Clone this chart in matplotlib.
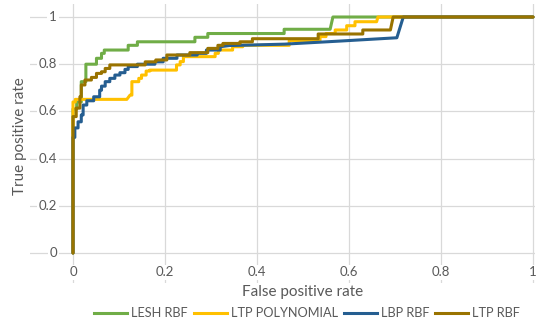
import matplotlib
matplotlib.use("Agg")
import matplotlib.pyplot as plt
from matplotlib.lines import Line2D

# ---- data ----
lesh_fpr = [0, 0, 0.008, 0.008, 0.018, 0.018, 0.028, 0.028, 0.051, 0.051, 0.062, 0.062,
            0.068, 0.068, 0.12, 0.12, 0.14, 0.14, 0.265, 0.265, 0.293, 0.293, 0.459, 0.459,
            0.559, 0.565, 1.0]
lesh_tpr = [0, 0.61, 0.61, 0.64, 0.64, 0.726, 0.726, 0.80, 0.80, 0.825, 0.825, 0.846,
            0.846, 0.86, 0.86, 0.88, 0.88, 0.895, 0.895, 0.914, 0.914, 0.93, 0.93, 0.948,
            0.948, 1.0, 1.0]

poly_fpr = [0, 0, 0.005, 0.005, 0.117, 0.124, 0.128, 0.128, 0.143, 0.143, 0.149, 0.149,
            0.159, 0.159, 0.167, 0.167, 0.225, 0.225, 0.233, 0.233, 0.24, 0.24, 0.309, 0.309,
            0.316, 0.316, 0.347, 0.347, 0.369, 0.369, 0.47, 0.47, 0.537, 0.537, 0.55, 0.55,
            0.57, 0.57, 0.595, 0.595, 0.613, 0.613, 0.66, 0.663, 1.0]
poly_tpr = [0, 0.64, 0.64, 0.651, 0.651, 0.669, 0.669, 0.726, 0.726, 0.74, 0.74, 0.754,
            0.754, 0.771, 0.771, 0.775, 0.775, 0.797, 0.797, 0.811, 0.811, 0.832, 0.832, 0.846,
            0.846, 0.86, 0.86, 0.874, 0.874, 0.88, 0.88, 0.90, 0.90, 0.917, 0.917, 0.93,
            0.93, 0.945, 0.945, 0.963, 0.963, 0.98, 0.98, 1.0, 1.0]

lbp_fpr = [0, 0, 0.004, 0.004, 0.011, 0.011, 0.018, 0.018, 0.022, 0.022, 0.03, 0.03,
           0.045, 0.045, 0.058, 0.058, 0.062, 0.062, 0.07, 0.07, 0.08, 0.08, 0.091, 0.091,
           0.102, 0.102, 0.113, 0.113, 0.12, 0.12, 0.14, 0.14, 0.178, 0.178, 0.196, 0.196,
           0.226, 0.226, 0.27, 0.27, 0.29, 0.29, 0.32, 0.32, 0.34, 0.46, 0.58, 0.704, 0.718, 1.0]
lbp_tpr = [0, 0.49, 0.49, 0.53, 0.53, 0.556, 0.556, 0.585, 0.585, 0.627, 0.627, 0.645,
           0.645, 0.662, 0.662, 0.69, 0.69, 0.707, 0.707, 0.726, 0.726, 0.74, 0.74, 0.754,
           0.754, 0.764, 0.764, 0.778, 0.778, 0.79, 0.79, 0.80, 0.80, 0.81, 0.81, 0.825,
           0.825, 0.839, 0.839, 0.846, 0.846, 0.86, 0.86, 0.874, 0.879, 0.885, 0.898, 0.912, 1.0, 1.0]

ltp_fpr = [0, 0, 0.007, 0.007, 0.015, 0.015, 0.018, 0.018, 0.026, 0.026, 0.04, 0.04,
           0.051, 0.051, 0.062, 0.062, 0.07, 0.07, 0.08, 0.08, 0.157, 0.157, 0.18, 0.18,
           0.204, 0.204, 0.254, 0.254, 0.293, 0.293, 0.315, 0.315, 0.326, 0.326, 0.363, 0.363,
           0.39, 0.39, 0.533, 0.533, 0.63, 0.63, 0.69, 0.696, 1.0]
ltp_tpr = [0, 0.578, 0.578, 0.614, 0.614, 0.662, 0.662, 0.712, 0.712, 0.733, 0.733, 0.744,
           0.744, 0.761, 0.761, 0.768, 0.768, 0.782, 0.782, 0.797, 0.797, 0.81, 0.81, 0.818,
           0.818, 0.839, 0.839, 0.849, 0.849, 0.867, 0.867, 0.88, 0.88, 0.888, 0.888, 0.895,
           0.895, 0.908, 0.908, 0.928, 0.928, 0.945, 0.945, 1.0, 1.0]

series_names = ["LESH RBF", "LTP POLYNOMIAL", "LBP RBF", "LTP RBF"]
series_colors = ["#70AD47", "#FFC000", "#255E91", "#997300"]
ticks = [0, 0.2, 0.4, 0.6, 0.8, 1]
tick_labels = ["0", "0.2", "0.4", "0.6", "0.8", "1"]

# ---- figure ----
W, H = 539, 323
fig = plt.figure(figsize=(W / 100, H / 100), dpi=100)
plt.rcParams['font.family'] = ['Lato', 'DejaVu Sans']
TXT = "#595959"
GRID = "#D9D9D9"

# axes spans gridline extents
px_left, px_right, py_top, py_bot = 30, 535, 4, 283
ax = fig.add_axes([px_left / W, 1 - py_bot / H, (px_right - px_left) / W, (py_bot - py_top) / H])
x0px, x1px = 73, 533
y0px, y1px = 253, 17
sx = (x1px - x0px)
sy = (y0px - y1px)
ax.set_xlim((px_left - x0px) / sx, (px_right - x0px) / sx)
ax.set_ylim((y0px - py_bot) / sy, (y0px - py_top) / sy)
ax.axis("off")

for t in ticks:
    ax.axhline(t, color=GRID, lw=0.9, zorder=0)
    ax.axvline(t, color=GRID, lw=0.9, zorder=0)

bb = dict(facecolor="white", edgecolor="none", pad=1.2)
for t, lab in zip(ticks, tick_labels):
    ax.text(-0.035, t, lab, ha="right", va="center", fontsize=9.5, color=TXT, bbox=bb, zorder=1)
    ax.text(t, -0.082, lab, ha="center", va="center", fontsize=9.5, color=TXT, bbox=bb, zorder=1)

data = [(lesh_fpr, lesh_tpr), (poly_fpr, poly_tpr), (lbp_fpr, lbp_tpr), (ltp_fpr, ltp_tpr)]
for (xs, ys), c, n in zip(data, series_colors, series_names):
    ax.plot(xs, ys, color=c, lw=2.2, solid_joinstyle="round", solid_capstyle="round",
            label=n, zorder=3, clip_on=False)

fig.text(303 / W, 1 - 292 / H, "False positive rate", ha="center", va="center",
         fontsize=11, color=TXT)
fig.text(20 / W, 1 - 136 / H, "True positive rate", ha="center", va="center",
         rotation=90, fontsize=11, color=TXT)

handles = [Line2D([0], [0], color=c, lw=2.2) for c in series_colors]
fig.legend(handles, series_names, loc="center", bbox_to_anchor=(307 / W, 1 - 313 / H),
           ncol=4, frameon=False, fontsize=9.2, labelcolor=TXT, handlelength=2.6,
           handletextpad=0.3, columnspacing=0.45, borderpad=0)

fig.savefig("out.png", dpi=100)
